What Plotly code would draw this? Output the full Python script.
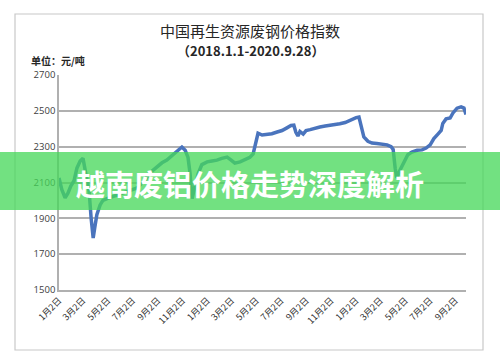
import plotly.graph_objects as go

dates = ["2018-01-02","2018-01-09","2018-01-17","2018-01-24","2018-01-31","2018-02-08","2018-02-15","2018-02-23",
         "2018-03-02","2018-03-09","2018-03-17","2018-03-22","2018-03-27","2018-03-31","2018-04-05","2018-04-13",
         "2018-04-20","2018-04-30","2018-05-12","2018-05-25","2018-06-06","2018-06-18","2018-06-30","2018-07-13",
         "2018-07-22","2018-08-01","2018-08-11","2018-08-21","2018-08-31","2018-09-12","2018-09-24","2018-10-07",
         "2018-10-19","2018-10-31","2018-11-08","2018-11-15","2018-11-20","2018-11-25","2018-12-02","2018-12-10",
         "2018-12-19","2019-01-01","2019-01-13","2019-01-25","2019-02-06","2019-02-19","2019-03-01","2019-03-10",
         "2019-03-23","2019-04-04","2019-04-16","2019-04-24","2019-05-01","2019-05-06","2019-05-16","2019-05-28",
         "2019-06-09","2019-06-22","2019-07-04","2019-07-16","2019-07-26","2019-08-02","2019-08-07","2019-08-12",
         "2019-08-17","2019-08-25","2019-09-01","2019-09-11","2019-09-23","2019-10-05","2019-10-18","2019-10-30",
         "2019-11-11","2019-11-23","2019-12-06","2019-12-18","2020-01-02","2020-01-09","2020-01-16","2020-01-21",
         "2020-01-31","2020-02-10","2020-02-22","2020-03-06","2020-03-18","2020-03-28","2020-04-02","2020-04-07",
         "2020-04-11","2020-04-19","2020-04-29","2020-05-08","2020-05-18","2020-05-31","2020-06-12","2020-06-22",
         "2020-07-02","2020-07-11","2020-07-21","2020-07-29","2020-08-02","2020-08-10","2020-08-20","2020-08-27",
         "2020-09-06","2020-09-16","2020-09-23","2020-09-28"]
prices = [2125,2060,2015,2040,2080,2110,2180,2220,
          2235,2150,2050,1900,1790,1850,1920,1975,
          2000,2010,2020,2030,2040,2050,2060,2070,
          2090,2110,2150,2170,2190,2210,2225,2250,
          2270,2298,2280,2240,2150,2010,2080,2150,
          2200,2215,2220,2225,2235,2242,2225,2208,
          2215,2230,2240,2260,2330,2375,2365,2368,
          2372,2382,2390,2405,2418,2420,2380,2360,
          2385,2370,2390,2395,2405,2410,2415,2418,
          2422,2428,2435,2448,2462,2465,2400,2355,
          2330,2320,2318,2315,2310,2300,2285,2180,
          2125,2170,2215,2255,2270,2280,2282,2292,
          2310,2345,2370,2390,2430,2455,2460,2488,
          2515,2522,2515,2480]

tick_dates = ["2018-01-02","2018-03-02","2018-05-02","2018-07-02","2018-09-02","2018-11-02",
              "2019-01-02","2019-03-02","2019-05-02","2019-07-02","2019-09-02","2019-11-02",
              "2020-01-02","2020-03-02","2020-05-02","2020-07-02","2020-09-02"]
tick_text = ["1月2日","3月2日","5月2日","7月2日","9月2日","11月2日",
             "1月2日","3月2日","5月2日","7月2日","9月2日","11月2日",
             "1月2日","3月2日","5月2日","7月2日","9月2日"]
y_ticks = [1500, 1700, 1900, 2100, 2300, 2500, 2700]

title_text = "中国再生资源废钢价格指数"
subtitle_text = "（2018.1.1-2020.9.28）"
unit_text = "单位：元/吨"
banner_text = "越南废铝价格走势深度解析"

CJK = "Noto Sans CJK SC"

fig = go.Figure()
fig.add_trace(go.Scatter(x=dates, y=prices, mode="lines",
                         line=dict(color="#4a74bd", width=3.5), hoverinfo="skip"))

# plot area: x 59..466, y 75..290
W, H = 407.0, 215.0
def px(x): return (x - 59) / W
def py(y): return (290 - y) / H

fig.update_layout(
    width=500, height=362,
    margin=dict(l=59, r=34, t=75, b=72),
    paper_bgcolor="white", plot_bgcolor="white",
    showlegend=False,
    font=dict(family=CJK, color="#404040"),
    xaxis=dict(type="date", range=["2018-01-02", "2020-09-28"],
               tickvals=tick_dates, ticktext=tick_text, tickangle=-45,
               tickfont=dict(size=9, color="#333333", family=CJK),
               showgrid=False, showline=True, linecolor="#b0b0b0", linewidth=1.5,
               ticks="", zeroline=False, automargin=False),
    yaxis=dict(range=[1500, 2700], tickvals=y_ticks,
               tickfont=dict(size=9.5, color="#404040", family="Open Sans"),
               showgrid=True, gridcolor="#b0b0b0", gridwidth=1.5,
               showline=True, linecolor="#b0b0b0", linewidth=1.5,
               ticks="", zeroline=False, automargin=False),
    shapes=[
        dict(type="rect", xref="paper", yref="paper",
             x0=px(15), x1=px(483), y0=py(350), y1=py(14),
             line=dict(color="#c8c8c8", width=1.2), fillcolor="rgba(0,0,0,0)", layer="below"),
        dict(type="rect", xref="paper", yref="paper",
             x0=px(-5), x1=px(505), y0=py(210), y1=py(152),
             line=dict(width=0), fillcolor="rgba(70,216,90,0.76)", layer="above"),
    ],
    annotations=[
        dict(text=title_text, xref="paper", yref="paper", x=px(250), y=py(31),
             showarrow=False, font=dict(size=15, color="#262626", family=CJK),
             xanchor="center", yanchor="middle"),
        dict(text="<b>" + subtitle_text + "</b>", xref="paper", yref="paper", x=px(250), y=py(50),
             showarrow=False, font=dict(size=13, color="#262626", family=CJK),
             xanchor="center", yanchor="middle"),
        dict(text="<b>" + unit_text + "</b>", xref="paper", yref="paper", x=px(29), y=py(60),
             showarrow=False, font=dict(size=10, color="#262626", family=CJK),
             xanchor="left", yanchor="middle"),
        dict(text="<b>" + banner_text + "</b>", xref="paper", yref="paper", x=px(250), y=py(183),
             showarrow=False, font=dict(size=29, color="white", family=CJK),
             xanchor="center", yanchor="middle"),
    ],
)

fig.write_html("out.html", config={"displayModeBar": False},
               post_script="document.body.style.margin='0';document.body.style.padding='0';")
